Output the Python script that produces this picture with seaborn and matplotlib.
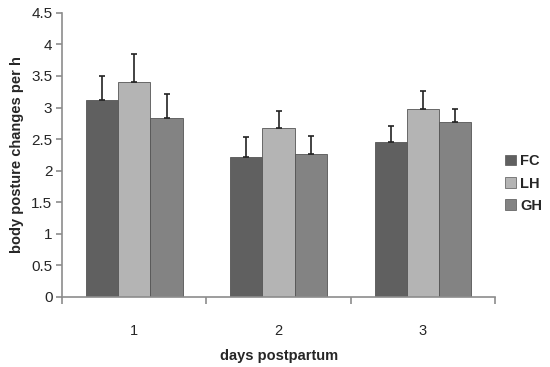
import numpy as np
import pandas as pd
import matplotlib
matplotlib.use("Agg")
import matplotlib.pyplot as plt
import seaborn as sns
from matplotlib.patches import Patch

# Datos
dias = ["1", "2", "3"]
grupos = ["FC", "LH", "GH"]
media_fc = [3.12, 2.21, 2.46]
media_lh = [3.40, 2.67, 2.97]
media_gh = [2.83, 2.27, 2.77]
err_fc = [0.38, 0.33, 0.24]
err_lh = [0.45, 0.28, 0.29]
err_gh = [0.38, 0.28, 0.21]

colores = {"FC": "#606060", "LH": "#b4b4b4", "GH": "#838383"}

df = pd.DataFrame({
    "dia": dias * 3,
    "grupo": ["FC"] * 3 + ["LH"] * 3 + ["GH"] * 3,
    "valor": media_fc + media_lh + media_gh,
    "error": err_fc + err_lh + err_gh,
})

sns.set_style("white")
plt.rcParams["font.family"] = ["Liberation Sans", "DejaVu Sans"]

fig = plt.figure(figsize=(5.5, 3.67), dpi=100)
ax = fig.add_axes([0.113, 0.191, 0.787, 0.774])

sns.barplot(data=df, x="dia", y="valor", hue="grupo", order=dias,
            hue_order=grupos, palette=colores, width=0.67,
            errorbar=None, edgecolor="#555555", linewidth=0.6,
            legend=False, ax=ax)

# Barras de error (solo hacia arriba, estilo Excel)
for contenedor, g in zip(ax.containers, grupos):
    sub = df[df["grupo"] == g].set_index("dia").loc[dias]
    xs = [b.get_x() + b.get_width() / 2 for b in contenedor]
    ax.errorbar(xs, sub["valor"], yerr=[np.zeros(len(xs)), sub["error"]],
                fmt="none", ecolor="#222222", elinewidth=1.2,
                capsize=2.5, capthick=1.2)

ax.set_ylim(0, 4.5)
ax.set_yticks(np.arange(0, 4.51, 0.5))
ax.set_yticklabels(["0", "0.5", "1", "1.5", "2", "2.5", "3", "3.5", "4", "4.5"])
ax.set_xlim(-0.5, 2.5)
ax.set_xticks([-0.5, 0.5, 1.5, 2.5], minor=True)

for lado in ["top", "right"]:
    ax.spines[lado].set_visible(False)
for lado in ["left", "bottom"]:
    ax.spines[lado].set_color("#8c8c8c")
    ax.spines[lado].set_linewidth(1.2)

ax.tick_params(axis="y", which="major", left=True, length=4, width=1.2,
               color="#8c8c8c", labelsize=11, pad=3)
ax.tick_params(axis="x", which="major", bottom=False, labelsize=10.5, pad=16)
ax.tick_params(axis="x", which="minor", bottom=True, length=5, width=1.2,
               color="#8c8c8c")

ax.set_xlabel("days postpartum", fontsize=10.5, fontweight="bold", labelpad=8)
ax.set_ylabel("body posture changes per h", fontsize=10.5, fontweight="bold",
              labelpad=5)

handles = [Patch(facecolor=colores[g], edgecolor="#555555", linewidth=0.5)
           for g in grupos]
fig.legend(handles, grupos, loc="center left", bbox_to_anchor=(0.895, 0.50),
           frameon=False, prop={"weight": "bold", "size": 10.5},
           handlelength=0.7, handleheight=0.7, handletextpad=0.3,
           labelspacing=0.55)

fig.savefig("out.png", dpi=100)
